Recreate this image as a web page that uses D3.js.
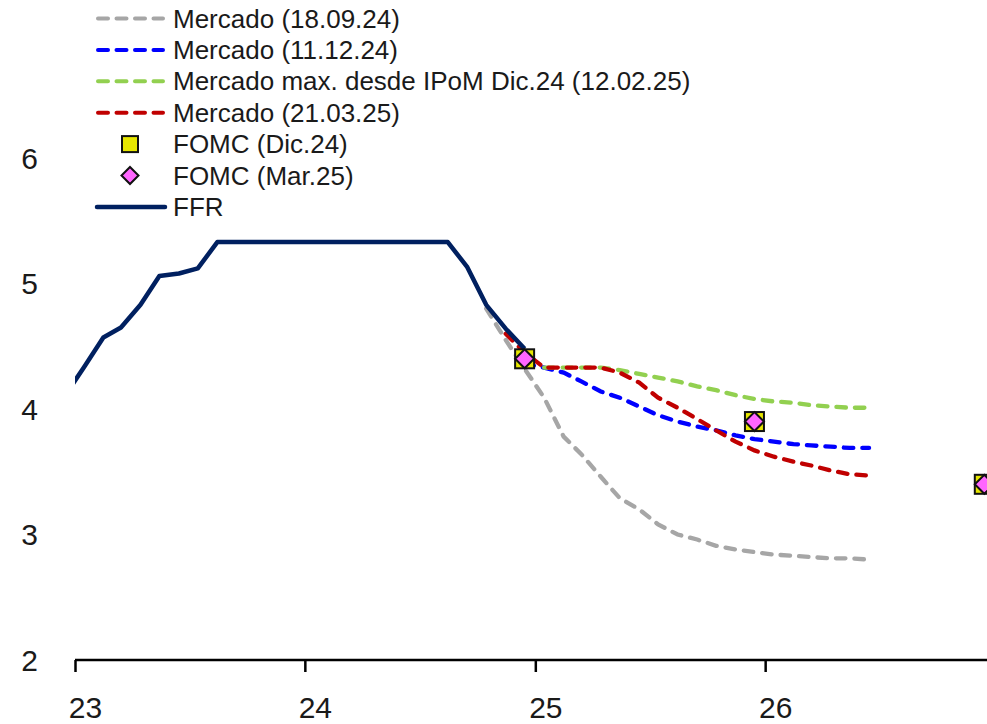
<!DOCTYPE html>
<html>
<head>
<meta charset="utf-8">
<script src="https://cdn.jsdelivr.net/npm/d3@7"></script>
<style>
  html, body { margin: 0; padding: 0; background: #fff; }
  svg { display: block; }
  text { font-family: "Liberation Sans", Arial, sans-serif; fill: #1a1a1a; }
</style>
</head>
<body>
<svg id="chart" width="987" height="724"></svg>
<script>
// ---------------- DATA ----------------
const ffrMonths = ["2022-12","2023-01","2023-02","2023-03","2023-04","2023-05","2023-06","2023-07","2023-08","2023-09","2023-10","2023-11","2023-12",
                   "2024-01","2024-02","2024-03","2024-04","2024-05","2024-06","2024-07","2024-08","2024-09","2024-10","2024-11","2024-12"];
const ffrValues = [4.10,4.33,4.57,4.65,4.83,5.06,5.08,5.12,5.33,5.33,5.33,5.33,5.33,
                   5.33,5.33,5.33,5.33,5.33,5.33,5.33,5.33,5.13,4.83,4.64,4.48];

const marketMonths = ["2024-10","2024-11","2024-12","2025-01","2025-02","2025-03","2025-04","2025-05","2025-06","2025-07","2025-08","2025-09",
                      "2025-10","2025-11","2025-12","2026-01","2026-02","2026-03","2026-04","2026-05","2026-06"];
const mercado180924 = [4.80,4.55,4.32,4.09,3.78,3.64,3.46,3.29,3.20,3.08,3.00,2.96,2.91,2.88,2.86,2.84,2.83,2.82,2.81,2.81,2.80];
const mercado111224 = [null,null,4.36,4.33,4.29,4.22,4.14,4.09,4.02,3.95,3.90,3.86,3.83,3.79,3.76,3.74,3.72,3.71,3.70,3.69,3.69];
const mercadoMax120225 = [null,null,null,4.33,4.33,4.33,4.33,4.31,4.28,4.25,4.22,4.18,4.15,4.11,4.08,4.06,4.05,4.03,4.02,4.01,4.01];
const mercado210325 = [null,4.60,4.45,4.33,4.33,4.33,4.33,4.29,4.21,4.09,4.01,3.92,3.83,3.74,3.67,3.62,3.58,3.55,3.51,3.48,3.47];

const fomcMonths = ["2024-12","2025-12","2026-12","2027-12"];
const fomcDic24 = [4.4,3.9,3.4,3.1];
const fomcMar25 = [4.4,3.9,3.4,3.1];

const yTicks = [2,3,4,5,6];
const xTickYears = [2023,2024,2025,2026];

const legendLabels = ["Mercado (18.09.24)","Mercado (11.12.24)","Mercado max. desde IPoM Dic.24 (12.02.25)",
                      "Mercado (21.03.25)","FOMC (Dic.24)","FOMC (Mar.25)","FFR"];

// ---------------- STYLES ----------------
const colors = { gray:"#a6a6a6", blue:"#0000ff", green:"#92d050", red:"#c00000", navy:"#002060", yellow:"#e6e600", pink:"#ff66ff" };

// ---------------- SETUP ----------------
const W = 987, H = 724;
const svg = d3.select("#chart");
const parse = s => { const [y,m] = s.split("-").map(Number); return new Date(y, m-1, 15); };

const x = d3.scaleTime().domain([new Date(2023,0,1), new Date(2027,0,1)]).range([75, 995]);
const y = d3.scaleLinear().domain([2,6]).range([660, 158]);

const defs = svg.append("defs");
defs.append("clipPath").attr("id","plotclip")
  .append("rect").attr("x",75).attr("y",0).attr("width",W-75).attr("height",660);

// Y tick labels (no axis line)
svg.append("g").selectAll("text").data(yTicks).join("text")
  .attr("x", 38).attr("y", d => y(d))
  .attr("text-anchor","end").attr("dominant-baseline","central")
  .style("font-size","30px").text(d => d);

// X axis
const xAxis = d3.axisBottom(x)
  .tickValues(xTickYears.map(yr => new Date(yr,0,1)))
  .tickFormat(d => String(d.getFullYear() % 100))
  .tickSize(12).tickSizeOuter(0);
const gx = svg.append("g").attr("transform","translate(0,660)").call(xAxis);
gx.select(".domain").attr("stroke","#000").attr("stroke-width",2.5).attr("d", `M75,0H${W}`);
gx.selectAll(".tick line").attr("stroke","#000").attr("stroke-width",2.5);
gx.selectAll(".tick text").attr("y", null).attr("dy", null)
  .attr("transform","translate(10,57.5)")
  .style("font-size","30px").style("font-family","'Liberation Sans', Arial, sans-serif").attr("fill","#1a1a1a");

// Lines
const plot = svg.append("g").attr("clip-path","url(#plotclip)");
const mkLine = d3.line().defined(d => d.v != null).x(d => x(d.t)).y(d => y(d.v));
const series = (months, vals) => months.map((m,i) => ({t: parse(m), v: vals[i]}));

const dash = "9.5 9";
const marketSeries = [
  {vals: mercado180924, color: colors.gray},
  {vals: mercado111224, color: colors.blue},
  {vals: mercadoMax120225, color: colors.green},
  {vals: mercado210325, color: colors.red}
];
marketSeries.forEach(s => {
  plot.append("path").datum(series(marketMonths, s.vals))
    .attr("d", mkLine).attr("fill","none").attr("stroke", s.color)
    .attr("stroke-width",4.3).attr("stroke-dasharray",dash).attr("stroke-linecap","round");
});

plot.append("path").datum(series(ffrMonths, ffrValues))
  .attr("d", mkLine).attr("fill","none").attr("stroke", colors.navy)
  .attr("stroke-width",4.5).attr("stroke-linejoin","round");

// FOMC markers
const sq = 19, dm = 9.5;
plot.append("g").selectAll("rect").data(series(fomcMonths, fomcDic24)).join("rect")
  .attr("x", d => x(d.t) - sq/2).attr("y", d => y(d.v) - sq/2)
  .attr("width", sq).attr("height", sq)
  .attr("fill", colors.yellow).attr("stroke","#111").attr("stroke-width",2);
plot.append("g").selectAll("path").data(series(fomcMonths, fomcMar25)).join("path")
  .attr("d", d => { const cx = x(d.t), cy = y(d.v); return `M${cx},${cy-dm}L${cx+dm},${cy}L${cx},${cy+dm}L${cx-dm},${cy}Z`; })
  .attr("fill", colors.pink).attr("stroke","#111").attr("stroke-width",2);

// Legend
const lg = svg.append("g");
const rowY = i => 18.5 + i * 31.4;
const legendItems = [
  {type:"dash", color: colors.gray},
  {type:"dash", color: colors.blue},
  {type:"dash", color: colors.green},
  {type:"dash", color: colors.red},
  {type:"square"},
  {type:"diamond"},
  {type:"solid", color: colors.navy}
];
legendItems.forEach((it, i) => {
  const cy = rowY(i);
  if (it.type === "dash") {
    lg.append("line").attr("x1",98).attr("x2",163).attr("y1",cy).attr("y2",cy)
      .attr("stroke", it.color).attr("stroke-width",4).attr("stroke-dasharray","10 8.5").attr("stroke-linecap","round");
  } else if (it.type === "solid") {
    lg.append("line").attr("x1",97).attr("x2",165).attr("y1",cy).attr("y2",cy)
      .attr("stroke", it.color).attr("stroke-width",4.5).attr("stroke-linecap","round");
  } else if (it.type === "square") {
    lg.append("rect").attr("x",130-8).attr("y",cy-8).attr("width",16).attr("height",16)
      .attr("fill", colors.yellow).attr("stroke","#111").attr("stroke-width",2);
  } else {
    const d = 8.5;
    lg.append("path").attr("d",`M130,${cy-d}L${130+d},${cy}L130,${cy+d}L${130-d},${cy}Z`)
      .attr("fill", colors.pink).attr("stroke","#111").attr("stroke-width",2);
  }
  lg.append("text").attr("x",173).attr("y",cy).attr("dominant-baseline","central")
    .style("font-size","26px").text(legendLabels[i]);
});
</script>
</body>
</html>
